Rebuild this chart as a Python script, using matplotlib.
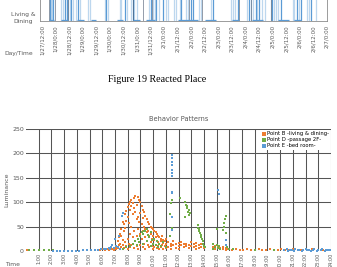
import matplotlib.pyplot as plt

W, H = 337, 267

# ---- top strip (Figure 19, reacted place) ----
day_ticks = [0.5, 1, 1.5, 2, 2.5, 3, 3.5, 4, 4.5, 5, 5.5, 6, 6.5, 7, 7.5, 8, 8.5, 9, 9.5, 10, 10.5, 11]
day_labels = ["1/27/12:00", "1/28/0:00", "1/28/12:00", "1/29/0:00", "1/29/12:00", "1/30/0:00",
              "1/30/12:00", "1/31/0:00", "1/31/12:00", "2/1/0:00", "2/1/12:00", "2/2/0:00",
              "2/2/12:00", "2/3/0:00", "2/3/12:00", "2/4/0:00", "2/4/12:00", "2/5/0:00",
              "2/5/12:00", "2/6/0:00", "2/6/12:00", "2/7/0:00"]
spikes_strong = [0.79, 0.91, 1.34, 1.41, 1.59, 1.83, 2.87, 3.55, 3.85, 4.53, 4.71, 4.95,
                 5.63, 6.0, 6.05, 6.79, 7.71, 8.14, 8.38, 8.5, 8.99, 9.3, 9.91, 10.03, 10.4]
spikes_faint = [0.83, 0.87, 1.22, 1.27, 1.47, 1.53, 1.66, 1.75, 1.9, 2.2, 2.26, 2.81, 2.93,
                3.38, 3.43, 3.62, 3.79, 3.91, 4.02, 4.46, 4.59, 4.65, 4.83, 5.08, 5.14, 5.38,
                5.45, 5.57, 5.81, 5.88, 6.3, 6.37, 6.72, 7.45, 7.52, 7.6, 8.07, 8.2, 8.26,
                8.44, 8.62, 8.7, 8.93, 9.05, 9.12, 9.2, 9.73, 9.8, 9.97, 10.28, 10.34, 10.58]
dark_lines = [0.76, 0.98, 1.45, 3.84, 4.21, 4.57, 5.93, 6.41, 7.77, 8.21, 8.94]
idle_start = [0.75, 1.2, 1.8, 2.3, 3.25, 3.85, 4.35, 5.5, 6.5, 7.5, 8.25, 9.2, 9.8]
idle_end = [0.95, 1.45, 2.05, 2.5, 3.5, 4.1, 4.65, 6.25, 6.9, 7.75, 8.65, 9.6, 10.05]

# ---- Behavior Patterns ----
b_hour = [0.1, 5.8, 6.0, 6.2, 6.4, 6.5, 6.6, 6.8, 6.9, 7.0,
          7.1, 7.1, 7.2, 7.2, 7.3, 7.3, 7.4, 7.4, 7.4, 7.5, 7.5, 7.5, 7.6, 7.6, 7.6,
          7.7, 7.7, 7.7, 7.8, 7.8, 7.8, 7.9, 7.9, 7.9, 8.0, 8.0, 8.0, 8.0, 8.1, 8.1, 8.1,
          8.2, 8.2, 8.2, 8.2, 8.3, 8.3, 8.3, 8.3, 8.4, 8.4, 8.4, 8.5, 8.5, 8.5, 8.5,
          8.6, 8.6, 8.6, 8.7, 8.7, 8.7, 8.7, 8.8, 8.8, 8.8, 8.8, 8.9, 8.9, 8.9,
          9.0, 9.0, 9.0, 9.0, 9.1, 9.1, 9.1, 9.2, 9.2, 9.2, 9.2, 9.3, 9.3, 9.3,
          9.4, 9.4, 9.4, 9.4, 9.5, 9.5, 9.5, 9.6, 9.6, 9.6, 9.7, 9.7, 9.7, 9.8, 9.8, 9.8,
          9.9, 9.9, 9.9, 10.0, 10.0, 10.0, 10.0, 10.1, 10.1, 10.1, 10.2, 10.2, 10.2,
          10.3, 10.3, 10.3, 10.4, 10.4, 10.4, 10.5, 10.5, 10.5, 10.6, 10.6, 10.6,
          10.7, 10.7, 10.8, 10.8, 10.8, 10.9, 10.9, 11.0, 11.0, 11.0, 11.2, 11.2,
          11.4, 11.4, 11.4, 11.6, 11.6, 11.8, 11.8, 12.0, 12.0, 12.0, 12.2, 12.2,
          12.4, 12.4, 12.6, 12.6, 12.8, 12.8, 13.0, 13.0, 13.2, 13.2, 13.4, 13.4, 13.4,
          13.6, 13.6, 13.8, 13.8, 14.0, 14.0, 14.7, 14.7, 14.9, 14.9, 15.1, 15.1,
          15.3, 15.3, 15.5, 15.5, 15.7, 15.7, 15.9, 15.9,
          16.2, 16.5, 16.8, 17.1, 17.4, 17.7, 18.0, 18.3, 18.6, 18.9, 19.2, 19.5,
          19.8, 20.1, 20.4, 20.7, 21.0, 21.6, 22.5, 23.4]
b_val = [3, 3, 4, 3, 4, 2, 5, 4, 3, 6,
         8, 4, 20, 6, 12, 28, 35, 15, 5, 45, 30, 8, 60, 22, 12,
         55, 40, 6, 75, 48, 18, 82, 62, 10, 90, 70, 25, 5, 96, 58, 15,
         100, 85, 35, 8, 105, 92, 50, 12, 98, 75, 28, 108, 88, 40, 6,
         112, 80, 20, 95, 65, 30, 10, 110, 70, 45, 4, 104, 60, 18,
         100, 78, 35, 12, 92, 55, 25, 85, 68, 40, 8, 80, 50, 15,
         72, 45, 28, 5, 65, 38, 20, 60, 42, 12, 55, 30, 8, 50, 35, 18,
         48, 25, 10, 45, 30, 15, 5, 40, 22, 8, 38, 28, 12,
         35, 20, 6, 30, 18, 10, 28, 15, 4, 25, 20, 8,
         30, 12, 22, 16, 5, 20, 10, 25, 14, 6, 18, 8,
         15, 10, 5, 20, 12, 14, 7, 16, 10, 5, 12, 18,
         15, 8, 10, 14, 12, 6, 18, 10, 14, 8, 16, 10, 5,
         12, 7, 15, 9, 10, 6, 8, 4, 10, 5, 6, 9,
         7, 4, 8, 5, 6, 3, 5, 4,
         3, 4, 3, 3, 4, 3, 3, 4, 3, 3, 4, 3,
         3, 4, 3, 3, 4, 3, 4, 3]

d_hour = [0.2, 0.6, 1.0, 1.4, 1.8, 2.1,
          7.6, 7.9, 8.2, 8.4, 8.6, 8.7, 8.8, 8.9, 9.0, 9.1, 9.2, 9.2, 9.3, 9.4, 9.5, 9.5,
          9.6, 9.7, 9.8, 9.8, 9.9, 10.0, 10.1, 10.2, 10.3, 10.4, 10.5, 10.6, 10.8, 11.0,
          11.3, 11.3, 11.4, 11.45, 11.5, 12.1,
          12.5, 12.55, 12.6, 12.65, 12.7, 12.75, 12.8, 12.85, 12.9,
          13.5, 13.55, 13.6, 13.65, 13.7, 13.75, 13.8, 13.85, 13.9, 13.95, 14.0, 14.05,
          14.7, 14.75, 14.9, 15.0, 15.0, 15.1, 15.2, 15.3,
          15.5, 15.55, 15.6, 15.65, 15.7, 15.75, 15.8, 16.0, 16.3, 18.0, 19.5]
d_val = [3, 2, 2, 2, 2, 2,
         5, 8, 10, 15, 20, 12, 25, 18, 30, 38, 35, 15, 42, 40, 45, 20,
         33, 28, 38, 10, 22, 15, 25, 12, 20, 8, 15, 10, 18, 8,
         75, 30, 98, 105, 47, 108,
         100, 70, 95, 88, 92, 80, 85, 74, 78,
         53, 48, 45, 40, 36, 32, 28, 24, 20, 15, 10, 8,
         5, 15, 8, 12, 45, 6, 10, 5,
         43, 50, 58, 66, 72, 36, 8, 5, 4, 3, 3]

e_hour = [2.1, 2.4, 2.7, 3.0, 3.3, 3.6, 3.9, 4.2, 4.5, 4.8, 5.1, 5.4, 5.7, 5.9, 6.1,
          6.3, 6.5, 6.6, 6.7, 6.8, 6.9, 7.0, 7.1, 7.2, 7.3, 7.4, 7.55, 7.6,
          11.5, 11.5, 11.5, 11.5, 11.5, 11.5, 11.5, 11.5, 11.5, 11.5, 11.5,
          15.1, 15.2, 15.7, 15.75,
          20.3, 20.5, 20.6, 20.8, 20.9, 21.1, 21.2, 21.4, 21.5, 21.7, 21.8, 22.0,
          22.1, 22.3, 22.4, 22.6, 22.7, 22.9, 23.0, 23.2, 23.3, 23.5, 23.6, 23.8, 23.9]
e_val = [1, 1, 1, 1, 1, 1, 1, 1, 2, 2, 2, 3, 3, 4, 4,
         5, 6, 5, 8, 12, 6, 25, 10, 8, 30, 5, 72, 78,
         197, 190, 182, 176, 166, 160, 154, 121, 119, 70, 43,
         125, 117, 22, 12,
         2, 4, 1, 3, 2, 1, 4, 2, 3, 1, 2, 4,
         2, 3, 1, 2, 4, 1, 3, 2, 4, 1, 3, 2, 3]

hour_ticks = list(range(1, 25))
hour_labels = [f"{h}:00" for h in hour_ticks]
lum_ticks = [0, 50, 100, 150, 200, 250]

grey = "#595959"


def box(left, top, right, bottom):
    return [left / W, 1 - bottom / H, (right - left) / W, (bottom - top) / H]


fig = plt.figure(figsize=(W / 100, H / 100), dpi=100)

# top strip
ax1 = fig.add_axes(box(40, -30, 327, 21))
ax1.vlines(spikes_faint, 0, 1, color="#BDD7EE", lw=0.9)
ax1.vlines(spikes_strong, 0, 1, color="#5B9BD5", lw=0.9)
ax1.vlines(dark_lines, 0, 1, color="#44546A", lw=0.5, alpha=0.8)
ax1.hlines([0.02] * len(idle_start), idle_start, idle_end, color="#5B9BD5", lw=0.9)
ax1.set_xlim(0.43, 10.98)
ax1.set_ylim(0, 1)
ax1.set_yticks([])
ax1.set_xticks(day_ticks)
ax1.set_xticklabels(day_labels, rotation=90, fontsize=4, color=grey)
ax1.tick_params(axis="x", length=0, pad=3)
for s in ax1.spines.values():
    s.set_color("#8c8c8c")
    s.set_linewidth(0.6)
fig.text(23 / W, 1 - 18 / H, "Living &\nDining", fontsize=4.3, color=grey,
         ha="center", va="center", linespacing=1.4)
fig.text(4 / W, 1 - 53 / H, "Day/Time", fontsize=4.3, color=grey, ha="left", va="center")

fig.text(157 / W, 1 - 79 / H, "Figure 19 Reacted Place", fontsize=7.2,
         family="Liberation Serif", ha="center", va="center")

# behavior patterns
ax = fig.add_axes(box(26, 129, 331, 251))
ax.scatter(b_hour, b_val, s=2.4, marker="s", color="#ED7D31", lw=0,
           label="Point B -living & dining-", zorder=3)
ax.scatter(d_hour, d_val, s=2.4, marker="s", color="#70AD47", lw=0,
           label="Point D -passage 2F-", zorder=3)
ax.scatter(e_hour, e_val, s=2.4, marker="s", color="#5B9BD5", lw=0,
           label="Point E -bed room-", zorder=3)
ax.set_xlim(0, 24)
ax.set_ylim(0, 250)
ax.set_xticks(hour_ticks)
ax.set_xticklabels(hour_labels, rotation=90, fontsize=3.6, color=grey)
ax.set_yticks(lum_ticks)
ax.set_yticklabels(lum_ticks, fontsize=4.5, color=grey)
ax.tick_params(length=0, pad=1.5)
ax.grid(True, color="#555555", lw=0.75)
ax.set_axisbelow(True)
for s in ax.spines.values():
    s.set_visible(False)
ax.set_ylabel("Luminance", fontsize=4.5, color=grey, labelpad=2)
ax.set_title("Behavior Patterns", fontsize=4.8, color=grey, pad=6)
fig.text(5 / W, 1 - 264 / H, "Time", fontsize=4.3, color=grey, ha="left", va="center")
leg = ax.legend(loc="upper right", fontsize=3.8, frameon=True, fancybox=False,
                borderaxespad=0.1, handletextpad=0.2, handlelength=0.8,
                markerscale=1.5, labelspacing=0.2, borderpad=0.3)
leg.get_frame().set_edgecolor("none")
leg.get_frame().set_alpha(1)

fig.savefig("out.png", dpi=100)
